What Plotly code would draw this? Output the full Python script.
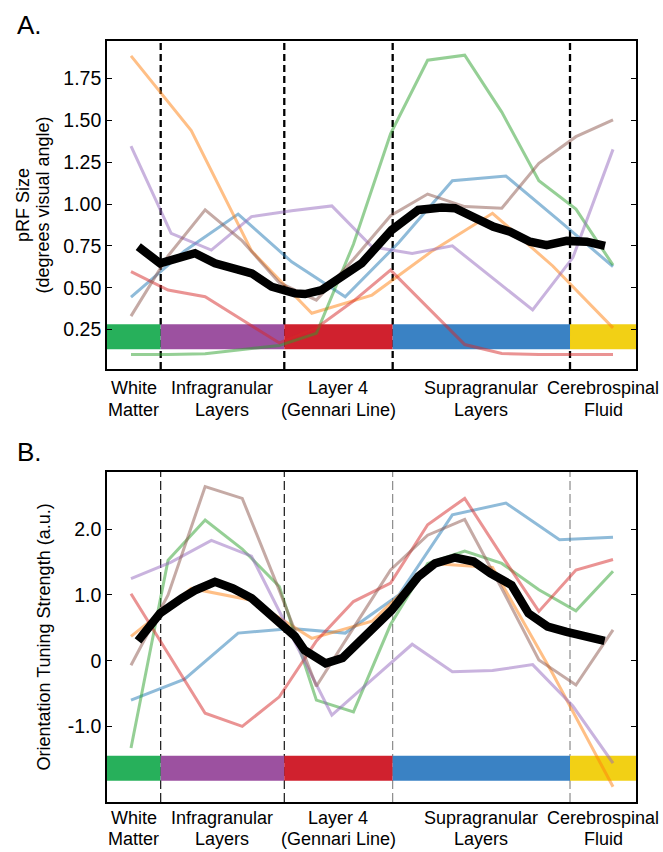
import plotly.graph_objects as go

# ---------------- data ----------------
# normalized cortical depth positions (0 = deepest sample, 1 = most superficial)
depth14 = [0, 0.0769, 0.1538, 0.2308, 0.3077, 0.3846, 0.4615, 0.5385, 0.6154, 0.6923, 0.7692, 0.8462, 0.9231, 1.0]
depth13 = [0, 0.0833, 0.1667, 0.25, 0.3333, 0.4167, 0.5, 0.5833, 0.6667, 0.75, 0.8333, 0.9167, 1.0]
depth10 = [0, 0.1111, 0.2222, 0.3333, 0.4444, 0.5556, 0.6667, 0.7778, 0.8889, 1.0]
depth9 = [0, 0.125, 0.25, 0.375, 0.5, 0.625, 0.75, 0.875, 1.0]

# Panel A: pRF size
prf_blue = [0.443, 0.72, 0.94, 0.655, 0.446, 0.77, 1.14, 1.168, 0.90, 0.626]
prf_orange = [1.886, 1.44, 0.72, 0.347, 0.456, 0.72, 0.945, 0.63, 0.26]
prf_green = [0.10, 0.10, 0.105, 0.13, 0.155, 0.227, 0.76, 1.42, 1.86, 1.89, 1.55, 1.14, 0.97, 0.635]
prf_red = [0.596, 0.486, 0.446, 0.31, 0.17, 0.26, 0.42, 0.605, 0.38, 0.16, 0.107, 0.10, 0.10, 0.10]
prf_purple = [1.347, 0.825, 0.725, 0.925, 0.96, 0.989, 0.745, 0.705, 0.75, 0.56, 0.367, 0.68, 1.327]
prf_brown = [0.33, 0.69, 0.965, 0.78, 0.53, 0.426, 0.67, 0.93, 1.06, 0.985, 0.975, 1.244, 1.403, 1.503]

prf_mean_depth = [0.0151, 0.0602, 0.1328, 0.1743, 0.2504, 0.2919, 0.3402, 0.3610, 0.3956, 0.4295, 0.4786,
                  0.5098, 0.5409, 0.5961, 0.6446, 0.6722, 0.7172, 0.7517, 0.7863, 0.8278, 0.8624, 0.9039,
                  0.9454, 0.9834]
prf_mean = [0.745, 0.646, 0.706, 0.646, 0.586, 0.506, 0.466, 0.462, 0.486, 0.546, 0.646,
            0.745, 0.845, 0.965, 0.98, 0.975, 0.905, 0.865, 0.835, 0.775, 0.755, 0.78,
            0.775, 0.75]

# Panel B: orientation tuning strength
ori_blue = [-0.60, -0.28, 0.42, 0.49, 0.42, 1.00, 2.22, 2.40, 1.84, 1.88]
ori_orange = [0.37, 1.10, 0.92, 0.34, 0.60, 1.48, 1.42, -0.20, -1.92]
ori_green = [-1.33, 1.53, 2.14, 1.70, 1.13, -0.60, -0.78, 0.55, 1.48, 1.67, 1.48, 1.08, 0.76, 1.36]
ori_red = [1.02, 0.12, -0.80, -1.00, -0.55, 0.30, 0.90, 1.18, 2.07, 2.47, 1.60, 0.75, 1.38, 1.54]
ori_purple = [1.25, 1.50, 1.83, 1.59, 0.38, -0.83, -0.29, 0.25, -0.17, -0.15, -0.06, -0.69, -1.56]
ori_brown = [-0.07, 1.00, 2.65, 2.47, 1.07, -0.39, 0.50, 1.38, 1.91, 2.15, 1.10, 0.01, -0.37, 0.47]

ori_mean_depth = [0.0145, 0.0602, 0.1052, 0.1328, 0.1743, 0.2116, 0.2504, 0.2983, 0.3402, 0.3598, 0.4037,
                  0.4388, 0.4786, 0.5409, 0.5961, 0.6307, 0.6722, 0.7108, 0.7459, 0.7896, 0.8247, 0.8643,
                  0.9037, 0.9432, 0.9826]
ori_mean = [0.30, 0.72, 0.95, 1.07, 1.20, 1.10, 0.95, 0.62, 0.37, 0.16, -0.04,
            0.04, 0.31, 0.77, 1.28, 1.48, 1.57, 1.51, 1.33, 1.15, 0.72, 0.52,
            0.44, 0.37, 0.30]

# layer boundaries (depth units) and labels
layer_bounds = [0.0616, 0.3180, 0.5429, 0.9108]
layer_labels = [["White", "Matter"], ["Infragranular", "Layers"], ["Layer 4", "(Gennari Line)"],
                ["Supragranular", "Layers"], ["Cerebrospinal", "Fluid"]]

prf_ticks = [0.25, 0.50, 0.75, 1.00, 1.25, 1.50, 1.75]
prf_ticktext = ["0.25", "0.50", "0.75", "1.00", "1.25", "1.50", "1.75"]
ori_ticks = [-1.0, 0.0, 1.0, 2.0]
ori_ticktext = ["-1.0", "0", "1.0", "2.0"]

# ---------------- style ----------------
W, H = 663, 852
FONT = "Liberation Sans, Arial, Helvetica, sans-serif"
XR = [-0.0498, 1.0477]
YR_A = [0.014, 1.975]
YR_B = [-2.151, 2.872]
band_A = [0.132, 0.282]
band_B = [-1.826, -1.446]
band_colors = ["#27b05b", "#9c51a0", "#d0212e", "#3a82c4", "#f2d015"]
sub_colors = {
    "blue": "rgba(31,119,180,0.5)", "orange": "rgba(255,127,14,0.5)", "green": "rgba(44,160,44,0.5)",
    "red": "rgba(214,39,40,0.5)", "purple": "rgba(148,103,189,0.5)", "brown": "rgba(140,86,75,0.5)",
}

fig = go.Figure()

def add_panel(series, mean_x, mean_y, xa, ya):
    for name, (xs, ys) in series.items():
        fig.add_trace(go.Scatter(x=xs, y=ys, mode="lines", xaxis=xa, yaxis=ya,
                                 line=dict(color=sub_colors[name], width=3), showlegend=False,
                                 hoverinfo="skip"))
    fig.add_trace(go.Scatter(x=mean_x, y=mean_y, mode="lines", xaxis=xa, yaxis=ya,
                             line=dict(color="black", width=8.5), showlegend=False, hoverinfo="skip"))

add_panel({"blue": (depth10, prf_blue), "orange": (depth9, prf_orange), "green": (depth14, prf_green),
           "red": (depth14, prf_red), "purple": (depth13, prf_purple), "brown": (depth14, prf_brown)},
          prf_mean_depth, prf_mean, "x", "y")
add_panel({"blue": (depth10, ori_blue), "orange": (depth9, ori_orange), "green": (depth14, ori_green),
           "red": (depth14, ori_red), "purple": (depth13, ori_purple), "brown": (depth14, ori_brown)},
          ori_mean_depth, ori_mean, "x2", "y2")

shapes = []
# dashed boundaries
for i, b in enumerate(layer_bounds):
    shapes.append(dict(type="line", xref="x", yref="y domain", x0=b, x1=b, y0=0, y1=1, layer="below",
                       line=dict(color="black", width=2.3, dash="7px,4px")))
    shapes.append(dict(type="line", xref="x2", yref="y2 domain", x0=b, x1=b, y0=0, y1=1, layer="below",
                       line=dict(color="black" if i < 2 else "#808080", width=1.1, dash="9px,4px")))
# colour bands
edges = [XR[0]] + layer_bounds + [XR[1]]
for i, c in enumerate(band_colors):
    shapes.append(dict(type="rect", xref="x", yref="y", x0=edges[i], x1=edges[i + 1],
                       y0=band_A[0], y1=band_A[1], fillcolor=c, line=dict(width=0), layer="below"))
    shapes.append(dict(type="rect", xref="x2", yref="y2", x0=edges[i], x1=edges[i + 1],
                       y0=band_B[0], y1=band_B[1], fillcolor=c, line=dict(width=0), layer="below"))

ann = []
def py(px):
    return 1 - px / H

# layer labels centred in each band
for i, lines in enumerate(layer_labels):
    xc = (edges[i] + edges[i + 1]) / 2
    for xa, y1, y2 in (("x", 388, 409.5), ("x2", 817.5, 839)):
        for txt, yy in zip(lines, (y1, y2)):
            ann.append(dict(text=txt, xref=xa, yref="paper", x=xc, y=py(yy), xanchor="center",
                            yanchor="middle", showarrow=False, font=dict(size=18, color="black", family=FONT)))

# axis titles
ann.append(dict(text="pRF Size", xref="paper", yref="paper", x=23 / W, y=py(205), textangle=-90,
                xanchor="center", yanchor="middle", showarrow=False, font=dict(size=18, color="black", family=FONT)))
ann.append(dict(text="(degrees visual angle)", xref="paper", yref="paper", x=42.5 / W, y=py(205), textangle=-90,
                xanchor="center", yanchor="middle", showarrow=False, font=dict(size=18, color="black", family=FONT)))
ann.append(dict(text="Orientation Tuning Strength (a.u.)", xref="paper", yref="paper", x=43.5 / W, y=py(637),
                textangle=-90, xanchor="center", yanchor="middle", showarrow=False,
                font=dict(size=18, color="black", family=FONT)))
# panel letters
ann.append(dict(text="A.", xref="paper", yref="paper", x=15 / W, y=py(25), xanchor="left", yanchor="middle",
                showarrow=False, font=dict(size=26, color="black", family=FONT)))
ann.append(dict(text="B.", xref="paper", yref="paper", x=15 / W, y=py(452), xanchor="left", yanchor="middle",
                showarrow=False, font=dict(size=26, color="black", family=FONT)))

xdom = [107 / W, 636 / W]
common_x = dict(domain=xdom, range=XR, showline=True, mirror=True, linecolor="black", linewidth=1.6,
                ticks="", showticklabels=False, showgrid=False, zeroline=False, fixedrange=True)
common_y = dict(showline=True, mirror="ticks", linecolor="black", linewidth=1.6, ticks="inside", ticklen=5,
                tickwidth=1.4, tickcolor="black", showgrid=False, zeroline=False,
                tickfont=dict(size=19.5, color="black", family=FONT))

fig.update_layout(
    width=W, height=H, margin=dict(l=0, r=0, t=0, b=0),
    paper_bgcolor="white", plot_bgcolor="white",
    font=dict(family=FONT, size=18, color="black"),
    xaxis=dict(**common_x, anchor="y"),
    yaxis=dict(**common_y, anchor="x", domain=[py(369), py(41)], range=YR_A,
               tickvals=prf_ticks, ticktext=prf_ticktext),
    xaxis2=dict(**common_x, anchor="y2"),
    yaxis2=dict(**common_y, anchor="x2", domain=[py(802), py(472)], range=YR_B,
                tickvals=ori_ticks, ticktext=ori_ticktext),
    shapes=shapes, annotations=ann, showlegend=False,
)

fig.write_html("out.html", config={"displayModeBar": False},
               post_script="document.body.style.margin='0';document.body.style.padding='0';"
                           "document.documentElement.style.overflow='hidden';")
